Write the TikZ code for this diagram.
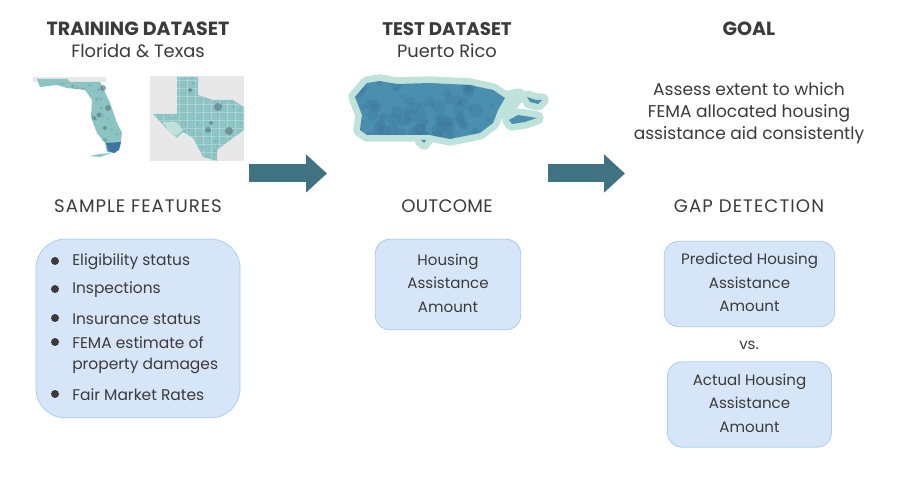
\documentclass[tikz,border=0pt]{standalone}
\usepackage{fontspec}
\setmainfont{Poppins}
\usetikzlibrary{arrows.meta}
\definecolor{inkcol}{HTML}{3C3A3C}
\definecolor{boxfill}{HTML}{D6E5F7}
\definecolor{boxline}{HTML}{A9CDF5}
\definecolor{arrowcol}{HTML}{3F7381}
\definecolor{mapteal}{HTML}{8CC4C4}
\definecolor{mapgrey}{HTML}{E8E8E8}
\definecolor{mapdark}{HTML}{5F7F87}
\definecolor{mapblue}{HTML}{3E75A0}
\definecolor{prmint}{HTML}{BFE3DA}
\definecolor{prblue}{HTML}{4A90AE}
\newcommand{\flpath}{(37,79) -- (67,79) -- (70,82) -- (100,82) -- (103,88) -- (110,103)
    -- (117,123) -- (122,133) -- (120,147) -- (115,153) -- (107,152) -- (105,143)
    -- (97,133) -- (91,117) -- (92,100) -- (85,90) -- (67,88) -- (57,85) -- (40,87) -- cycle}
\newcommand{\txpath}{(177,77) -- (198,77) -- (198,95) -- (213,100) -- (233,100) -- (244,107)
    -- (244,130) -- (233,138) -- (217,150) -- (217,161) -- (203,157) -- (193,138)
    -- (183,132) -- (177,138) -- (168,130) -- (153,114) -- (177,114) -- cycle}
\newcommand{\prpath}{(355,97) -- (367,83) -- (380,81) -- (397,84) -- (430,83) -- (470,85) -- (493,90) -- (505,98)
    -- (498,110) -- (493,123) -- (480,133) -- (450,139) -- (430,135) -- (407,135) -- (367,135)
    -- (360,130) -- (362,115) -- cycle}
\newcommand{\isleapath}{(527,97) -- (536,100) -- (542,100) -- (538,104) -- (530,102) -- cycle}
\newcommand{\islebpath}{(509,120) -- (518,115) -- (537,118) -- (525,122) -- (512,124) -- cycle}
\newcommand{\islecpath}{(421,140) -- (426,140) -- (424,143) -- cycle}
\newcommand{\lastfix}{\rule[-2pt]{0pt}{0pt}}
\tikzset{
  head/.style={text=inkcol,font=\fontsize{14.3}{16}\selectfont\bfseries},
  subhead/.style={text=inkcol,font=\fontsize{13.4}{16}\selectfont},
  section/.style={text=inkcol,font=\fontsize{13.6}{16}\selectfont\addfontfeature{LetterSpace=#1}},
  label/.style={text=inkcol,align=center},
  item/.style={text=inkcol,font=\fontsize{11.6}{14}\selectfont,anchor=west,inner sep=0pt},
  dot/.style={circle,fill=inkcol,inner sep=0pt,minimum size=6pt},
  bluebox/.style={draw=boxline,fill=boxfill,line width=0.6pt,text=inkcol,align=center,
    font=\fontsize{11.3}{17.6}\selectfont},
  blockarrow/.style={line width=13.5pt,arrowcol,
    -{Triangle[length=15.75pt,width=27.75pt]}},
  halo/.style={draw=prmint,line width=10pt,line join=round}
}
\begin{document}
\begin{tikzpicture}[x=0.75pt,y=-0.75pt]
  \useasboundingbox (0,0) rectangle (907,488);
  \fill[white] (0,0) rectangle (907,488);
  % headings
  \node[head] (trainhead) at (138,29) {TRAINING DATASET};
  \node[subhead] (trainsub) at (138,51) {Florida \& Texas};
  \node[head,font=\fontsize{13.7}{16}\selectfont\bfseries] (testhead) at (447,29) {TEST DATASET};
  \node[subhead] (testsub) at (447,51) {Puerto Rico};
  \node[head] (goalhead) at (749,29) {GOAL};
  \node[label,font=\fontsize{12.8}{16.5}\selectfont] (goaltext) at (749,113)
    {Assess extent to which\\FEMA allocated housing\\assistance aid consistently};
  % florida map
  \fill[mapgrey] (33,77) rectangle (106,82);
  \fill[mapteal] \flpath;
  \begin{scope}
    \clip \flpath;
    \pgfmathsetseed{11}
    \foreach \i in {1,...,70}
      \fill[mapdark,opacity=.35] (35+rnd*90,78+rnd*76) circle (.6+rnd*1.4);
  \end{scope}
  \fill[mapblue] (106,143) -- (121,142) -- (119,150) -- (114,153) -- (108,151) -- cycle;
  \fill[mapteal] (90,156) -- (100,154) -- (112,153) -- (100,157) -- cycle;
  \foreach \x/\y/\r in {103/88/3,108/108/3,99/115/2.5,94/118/2,105/128/2}
    \fill[mapdark,opacity=.7] (\x,\y) circle (\r);
  % texas map
  \fill[mapgrey] (150,76) rectangle (244,161);
  \fill[mapteal] \txpath;
  \begin{scope}
    \clip \txpath;
    \foreach \x in {155,163,...,243}
      \draw[white,opacity=.25,line width=.3pt] (\x,76) -- (\x,161);
    \foreach \y in {80,88,...,160}
      \draw[white,opacity=.25,line width=.3pt] (150,\y) -- (244,\y);
    \pgfmathsetseed{5}
    \foreach \i in {1,...,60}
      \fill[mapdark,opacity=.3] (155+rnd*90,78+rnd*82) circle (.5+rnd);
  \end{scope}
  \fill[prmint] (163,122) -- (176,122) -- (183,130) -- (176,136) -- (168,130) -- cycle;
  \foreach \x/\y/\r in {218/107/4,208/130/3,229/131/4,211/123/2,190/90/2}
    \fill[mapdark,opacity=.7] (\x,\y) circle (\r);
  % puerto rico map
  \draw[halo,fill=prmint] \prpath;
  \draw[halo,fill=prmint] (505,98) -- (519,95) -- (505,112) -- cycle;
  \draw[halo,fill=prmint] \isleapath;
  \draw[halo,fill=prmint] \islebpath;
  \draw[halo,fill=prmint] \islecpath;
  \fill[prblue] \prpath;
  \fill[prblue] \isleapath;
  \fill[prblue] \islebpath;
  \fill[prblue] \islecpath;
  \begin{scope}
    \clip \prpath;
    \pgfmathsetseed{3}
    \foreach \i in {1,...,90}
      \fill[mapblue,opacity=.3] (355+rnd*150,83+rnd*56) circle (2+rnd*5);
  \end{scope}
  % arrows
  \coordinate (arrowastart) at (249,173.5);
  \coordinate (arrowaend) at (327,173.5);
  \coordinate (arrowbstart) at (548,173.5);
  \coordinate (arrowbend) at (625,173.5);
  \draw[blockarrow] (arrowastart) -- (arrowaend);
  \draw[blockarrow] (arrowbstart) -- (arrowbend);
  % section titles
  \node[section=5.5] (featurehead) at (138,206) {SAMPLE FEATURES};
  \node[section=1.5] (outcomehead) at (447,206) {OUTCOME};
  \node[section=6] (gaphead) at (749,206) {GAP DETECTION};
  % boxes
  \node[bluebox,rounded corners=22pt,minimum width=153pt,minimum height=134pt] (featurebox) at (138,328.5) {};
  \node[bluebox,rounded corners=11pt,minimum width=109pt,minimum height=68pt] (outcomebox) at (448,284.5)
    {Housing\\Assistance\\Amount\lastfix};
  \node[bluebox,rounded corners=11pt,minimum width=128pt,minimum height=64pt] (predbox) at (749.5,284)
    {Predicted Housing\\Assistance\\Amount\lastfix};
  \node[label,font=\fontsize{11.3}{14}\selectfont] (versus) at (749,345) {vs.};
  \node[bluebox,rounded corners=11pt,minimum width=123pt,minimum height=64pt] (actualbox) at (749.5,404.5)
    {Actual Housing\\Assistance\\Amount\lastfix};
  % feature list
  \foreach \name/\y/\txt in {elig/262/Eligibility status,insp/290/Inspections,
      insur/319/Insurance status,fema/343/FEMA estimate of,fair/395/Fair Market Rates} {
    \node[dot] (\name dot) at (55,\y-1) {};
    \node[item] (\name) at (72,\y) {\txt};
  }
  \node[item] (damage) at (72,366) {property damages};
\end{tikzpicture}
\end{document}
